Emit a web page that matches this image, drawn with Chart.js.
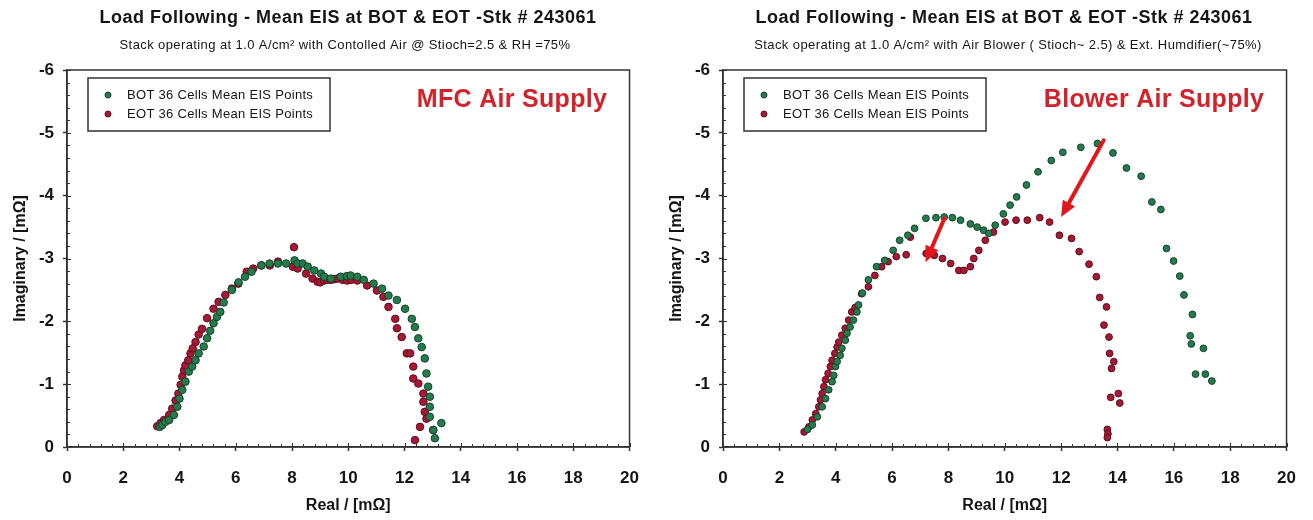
<!DOCTYPE html>
<html>
<head>
<meta charset="utf-8">
<script src="https://cdn.jsdelivr.net/npm/chart.js@4.4.1/dist/chart.umd.min.js"></script>
<style>
  html, body { margin: 0; padding: 0; background: #fff; }
  #wrap { display: flex; width: 1313px; height: 520px; }
  .cell { position: relative; height: 520px; }
</style>
</head>
<body>
<div id="wrap">
  <div class="cell" style="width:656px"><canvas id="mfc"></canvas></div>
  <div class="cell" style="width:657px"><canvas id="blower"></canvas></div>
</div>
<script>
// ── Axis ticks ─────────────────────────────────────────────
const realTicks = [0, 2, 4, 6, 8, 10, 12, 14, 16, 18, 20];
const imagTicks = [-6, -5, -4, -3, -2, -1, 0];

const botLabel = 'BOT 36 Cells Mean EIS Points';
const eotLabel = 'EOT 36 Cells Mean EIS Points';

// ── MFC air supply (left) ──────────────────────────────────
const mfcBotReal = [3.30, 3.39, 3.50, 3.63, 3.80, 3.92, 4.00, 4.10, 4.21, 4.33, 4.45, 4.57, 4.68, 4.86, 4.98, 5.09, 5.21, 5.33, 5.45, 5.57, 5.86, 6.10, 6.33, 6.56, 6.91, 7.20, 7.50, 7.79, 8.09, 8.20, 8.38, 8.56, 8.79, 9.03, 9.14, 9.38, 9.73, 9.95, 10.08, 10.32, 10.55, 10.90, 11.20, 11.43, 11.73, 12.02, 12.26, 12.37, 12.49, 12.61, 12.72, 12.78, 12.84, 12.90, 12.90, 12.90, 13.02, 13.08, 13.31];
const mfcBotImag = [-0.32, -0.35, -0.40, -0.43, -0.51, -0.64, -0.77, -0.91, -1.04, -1.20, -1.28, -1.38, -1.49, -1.60, -1.73, -1.85, -1.97, -2.07, -2.15, -2.30, -2.50, -2.62, -2.71, -2.79, -2.89, -2.92, -2.92, -2.92, -2.97, -2.92, -2.92, -2.87, -2.81, -2.76, -2.71, -2.68, -2.71, -2.72, -2.73, -2.71, -2.66, -2.60, -2.52, -2.41, -2.34, -2.20, -2.04, -1.91, -1.73, -1.59, -1.41, -1.17, -0.96, -0.80, -0.64, -0.48, -0.27, -0.14, -0.38];

const mfcEotReal = [3.21, 3.33, 3.45, 3.63, 3.74, 3.86, 3.96, 4.04, 4.10, 4.16, 4.21, 4.31, 4.39, 4.47, 4.57, 4.68, 4.80, 4.98, 5.21, 5.39, 5.63, 5.86, 6.09, 6.39, 6.62, 6.91, 7.21, 7.50, 8.07, 8.03, 8.20, 8.50, 8.73, 8.91, 9.00, 9.14, 9.25, 9.38, 9.50, 9.61, 9.80, 9.96, 10.10, 10.32, 10.67, 11.02, 11.25, 11.43, 11.67, 11.73, 11.90, 12.08, 12.20, 12.31, 12.31, 12.49, 12.67, 12.67, 12.72, 12.78, 12.55, 13.02, 12.37];
const mfcEotImag = [-0.33, -0.38, -0.43, -0.51, -0.61, -0.74, -0.85, -0.99, -1.12, -1.22, -1.30, -1.38, -1.49, -1.57, -1.67, -1.79, -1.88, -2.05, -2.20, -2.31, -2.42, -2.52, -2.60, -2.79, -2.84, -2.89, -2.89, -2.95, -3.18, -2.87, -2.84, -2.76, -2.68, -2.63, -2.62, -2.65, -2.66, -2.66, -2.67, -2.68, -2.66, -2.65, -2.66, -2.65, -2.57, -2.49, -2.39, -2.23, -2.04, -1.89, -1.75, -1.49, -1.49, -1.28, -1.09, -1.01, -0.85, -0.72, -0.56, -0.45, -0.32, -0.27, -0.11];

// ── Blower air supply (right) ──────────────────────────────
const blowerBotReal = [3.00, 3.17, 3.35, 3.52, 3.64, 3.75, 3.87, 3.93, 3.99, 4.05, 4.16, 4.22, 4.34, 4.40, 4.51, 4.63, 4.75, 4.81, 4.95, 5.16, 5.45, 5.74, 6.04, 6.27, 6.56, 6.80, 7.20, 7.56, 7.85, 8.14, 8.43, 8.78, 9.02, 9.25, 9.43, 9.66, 9.95, 10.19, 10.42, 10.77, 11.18, 11.65, 12.06, 12.70, 13.29, 13.84, 14.32, 14.84, 15.22, 15.54, 15.74, 15.99, 16.21, 16.36, 16.66, 16.58, 16.62, 17.05, 16.77, 17.12, 17.35];
const blowerBotImag = [-0.28, -0.35, -0.48, -0.64, -0.77, -0.91, -1.04, -1.14, -1.28, -1.36, -1.46, -1.57, -1.70, -1.81, -1.91, -2.02, -2.15, -2.26, -2.45, -2.66, -2.87, -2.97, -3.13, -3.29, -3.37, -3.48, -3.64, -3.65, -3.66, -3.65, -3.61, -3.55, -3.50, -3.45, -3.40, -3.53, -3.71, -3.85, -3.98, -4.17, -4.38, -4.56, -4.69, -4.77, -4.83, -4.68, -4.44, -4.31, -3.90, -3.78, -3.16, -2.96, -2.72, -2.42, -2.11, -1.77, -1.64, -1.57, -1.16, -1.16, -1.05];

const blowerEotReal = [2.88, 3.05, 3.17, 3.29, 3.40, 3.46, 3.52, 3.58, 3.64, 3.73, 3.81, 3.87, 3.97, 4.05, 4.11, 4.22, 4.34, 4.46, 4.57, 4.69, 4.92, 5.16, 5.39, 5.63, 5.86, 6.15, 6.50, 6.65, 7.21, 7.50, 7.79, 8.08, 8.37, 8.55, 8.78, 8.90, 9.08, 9.31, 9.60, 10.01, 10.40, 10.80, 11.24, 11.59, 11.94, 12.37, 12.64, 12.99, 13.25, 13.37, 13.61, 13.52, 13.70, 13.72, 13.87, 13.79, 14.03, 13.76, 14.08, 13.64, 13.66, 13.64];
const blowerEotImag = [-0.24, -0.32, -0.43, -0.53, -0.64, -0.75, -0.85, -0.96, -1.07, -1.17, -1.28, -1.38, -1.49, -1.59, -1.67, -1.78, -1.89, -2.02, -2.15, -2.22, -2.44, -2.55, -2.73, -2.87, -2.95, -3.03, -3.06, -3.34, -3.08, -3.05, -3.00, -2.92, -2.81, -2.81, -2.87, -3.00, -3.13, -3.29, -3.42, -3.58, -3.61, -3.61, -3.65, -3.58, -3.37, -3.32, -3.11, -2.91, -2.71, -2.38, -2.23, -1.94, -1.75, -1.49, -1.36, -1.25, -0.85, -0.79, -0.70, -0.28, -0.21, -0.15];

// arrows on the blower chart, [realFrom, imagFrom, realTo, imagTo]
const blowerArrows = [
  [13.51, -4.88, 12.00, -3.66],
  [7.86, -3.64, 7.19, -2.94],
];

// ── Look ───────────────────────────────────────────────────
const GREEN      = 'rgb(36,124,76)';
const GREEN_EDGE = 'rgb(20,66,42)';
const RED        = 'rgb(168,24,50)';
const RED_EDGE   = 'rgb(92,14,30)';
const INK        = '#151515';
const AXIS       = '#333';
const FONT       = "'Liberation Sans',Arial,sans-serif";

function zip(xs, ys) {
  return xs.map((x, i) => ({ x, y: ys[i] }));
}

function spaced(ctx, px) {
  if ('letterSpacing' in ctx) ctx.letterSpacing = px + 'px';
}

// ── Frame + minor ticks (Excel style) ──────────────────────
const framePlugin = {
  id: 'frame',
  beforeDatasetsDraw(chart) {
    const { ctx, chartArea: a, scales: { x, y } } = chart;
    ctx.save();
    ctx.strokeStyle = AXIS;
    ctx.lineWidth = 1.5;
    ctx.strokeRect(a.left, a.top, a.right - a.left, a.bottom - a.top);

    ctx.lineWidth = 1;
    ctx.beginPath();
    for (let i = 0; i <= 50; i++) {
      const px = Math.round(x.getPixelForValue(i * 0.4)) + 0.5;
      const len = (i % 5 === 0) ? 4 : 3;
      ctx.moveTo(px, a.bottom);
      ctx.lineTo(px, a.bottom - len);
    }
    for (let i = 0; i <= 30; i++) {
      const py = Math.round(y.getPixelForValue(-6 + i * 0.2)) + 0.5;
      const len = (i % 5 === 0) ? 4 : 3;
      ctx.moveTo(a.left, py);
      ctx.lineTo(a.left + len, py);
    }
    ctx.stroke();
    ctx.restore();
  },
};

// ── Titles, legend box, notes, arrows ──────────────────────
function notesPlugin(cfg) {
  return {
    id: 'notes',
    afterDraw(chart) {
      const { ctx, scales: { x, y } } = chart;
      ctx.save();

      // titles
      ctx.fillStyle = INK;
      ctx.textAlign = 'center';
      ctx.textBaseline = 'middle';
      ctx.font = `bold 18px ${FONT}`;
      spaced(ctx, 0.5);
      ctx.fillText(cfg.title, 348, 18);
      ctx.font = `13px ${FONT}`;
      spaced(ctx, 0.4);
      ctx.fillText(cfg.subtitle, cfg.subX, 45);

      // legend box
      const lb = { l: 88, t: 78, r: 330, b: 131 };
      ctx.fillStyle = '#fff';
      ctx.fillRect(lb.l, lb.t, lb.r - lb.l, lb.b - lb.t);
      ctx.strokeStyle = AXIS;
      ctx.lineWidth = 1.5;
      ctx.strokeRect(lb.l, lb.t, lb.r - lb.l, lb.b - lb.t);
      chart.data.datasets.forEach((ds, i) => {
        const cy = 95 + i * 19;
        ctx.beginPath();
        ctx.arc(108, cy, 3, 0, Math.PI * 2);
        ctx.fillStyle = ds.backgroundColor;
        ctx.fill();
        ctx.lineWidth = 1;
        ctx.strokeStyle = ds.borderColor;
        ctx.stroke();
        ctx.fillStyle = INK;
        ctx.textAlign = 'left';
        ctx.font = `13px ${FONT}`;
        spaced(ctx, 0.3);
        ctx.fillText(ds.label, 127, cy);
      });

      // red note
      ctx.fillStyle = '#d2232a';
      ctx.textAlign = 'center';
      ctx.font = `bold 25px ${FONT}`;
      spaced(ctx, 0.3);
      ctx.fillText(cfg.note, cfg.noteX, 100);
      spaced(ctx, 0);

      // arrows
      (cfg.arrows || []).forEach(([x0, y0, x1, y1]) => {
        const ax = x.getPixelForValue(x0), ay = y.getPixelForValue(y0);
        const bx = x.getPixelForValue(x1), by = y.getPixelForValue(y1);
        const ang = Math.atan2(by - ay, bx - ax);
        const head = 16, half = 7;
        const hx = bx - Math.cos(ang) * head, hy = by - Math.sin(ang) * head;
        ctx.strokeStyle = '#e3161b';
        ctx.fillStyle = '#e3161b';
        ctx.lineWidth = 4;
        ctx.lineCap = 'round';
        ctx.beginPath();
        ctx.moveTo(ax, ay);
        ctx.lineTo(hx, hy);
        ctx.stroke();
        ctx.beginPath();
        ctx.moveTo(bx, by);
        ctx.lineTo(hx + Math.sin(ang) * half, hy - Math.cos(ang) * half);
        ctx.lineTo(hx - Math.sin(ang) * half, hy + Math.cos(ang) * half);
        ctx.closePath();
        ctx.fill();
      });
      ctx.restore();
    },
  };
}

// ── Chart builder ──────────────────────────────────────────
function eisChart(canvasId, cfg) {
  const canvas = document.getElementById(canvasId);
  const point = (fill, edge) => ({
    backgroundColor: fill, borderColor: edge, borderWidth: 1,
    pointRadius: cfg.radius, pointHoverRadius: cfg.radius,
  });
  return new Chart(canvas, {
    type: 'scatter',
    data: {
      datasets: [
        { label: botLabel, data: zip(cfg.botReal, cfg.botImag), ...point(GREEN, GREEN_EDGE) },
        { label: eotLabel, data: zip(cfg.eotReal, cfg.eotImag), ...point(RED, RED_EDGE) },
      ],
    },
    options: {
      responsive: true,
      maintainAspectRatio: false,
      animation: false,
      events: [],
      layout: { padding: { top: 70, left: 0, right: cfg.padRight, bottom: 0 } },
      plugins: { legend: { display: false }, tooltip: { enabled: false } },
      scales: {
        x: {
          type: 'linear', min: 0, max: 20,
          afterFit: s => { s.height = 73; },
          afterBuildTicks: s => { s.ticks = realTicks.map(v => ({ value: v })); },
          ticks: { color: INK, font: { family: FONT, size: 17, weight: 'bold' }, padding: 17, maxRotation: 0 },
          grid: { drawOnChartArea: false, tickLength: 4, tickColor: AXIS, tickWidth: 1.5 },
          border: { color: AXIS, width: 1.5 },
          title: {
            display: true, text: 'Real / [mΩ]', color: INK,
            font: { family: FONT, size: 16, weight: 'bold' }, padding: { top: 0, bottom: 5 },
          },
        },
        y: {
          type: 'linear', min: -6, max: 0, reverse: true,
          afterFit: s => { s.width = 67; },
          afterBuildTicks: s => { s.ticks = imagTicks.map(v => ({ value: v })); },
          ticks: { color: INK, font: { family: FONT, size: 17, weight: 'bold' }, padding: 9 },
          grid: { drawOnChartArea: false, tickLength: 4, tickColor: AXIS, tickWidth: 1.5 },
          border: { color: AXIS, width: 1.5 },
          title: {
            display: true, text: 'Imaginary / [mΩ]', color: INK,
            font: { family: FONT, size: 16, weight: 'bold' }, padding: { top: 11, bottom: 0 },
          },
        },
      },
    },
    plugins: [framePlugin, notesPlugin(cfg)],
  });
}

eisChart('mfc', {
  botReal: mfcBotReal, botImag: mfcBotImag,
  eotReal: mfcEotReal, eotImag: mfcEotImag,
  radius: 3.8, padRight: 21,
  title: 'Load Following - Mean EIS at BOT & EOT -Stk # 243061',
  subtitle: 'Stack operating at 1.0 A/cm² with Contolled Air @ Stioch=2.5 & RH =75%',
  subX: 345,
  note: 'MFC Air Supply', noteX: 512,
});

eisChart('blower', {
  botReal: blowerBotReal, botImag: blowerBotImag,
  eotReal: blowerEotReal, eotImag: blowerEotImag,
  radius: 3.4, padRight: 20,
  title: 'Load Following - Mean EIS at BOT & EOT -Stk # 243061',
  subtitle: 'Stack operating at 1.0 A/cm² with Air Blower ( Stioch~ 2.5) & Ext. Humdifier(~75%)',
  subX: 352,
  note: 'Blower Air Supply', noteX: 498,
  arrows: blowerArrows,
});
</script>
</body>
</html>
